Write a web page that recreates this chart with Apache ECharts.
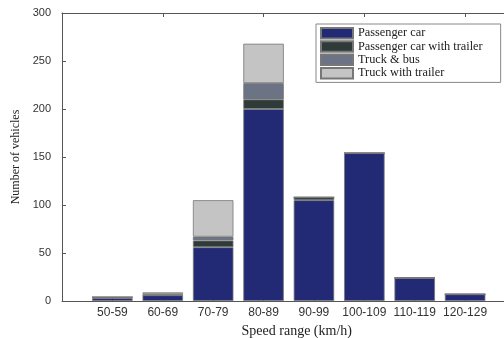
<!DOCTYPE html>
<html><head><meta charset="utf-8">
<script src="https://cdn.jsdelivr.net/npm/echarts@6/dist/echarts.min.js"></script>
<style>html,body{margin:0;padding:0;background:#fff}#c{width:504px;height:338px}</style>
</head><body><div id="c"></div>
<script>
var categories = ['50-59','60-69','70-79','80-89','90-99','100-109','110-119','120-129'];
var passengerCar = [3, 6, 56, 200, 105, 154, 24, 7];
var passengerCarTrailer = [1, 0, 7, 10, 3, 0, 0, 0];
var truckBus = [0, 1, 4, 17, 0, 0, 0, 0];
var truckTrailer = [0, 2, 38, 41, 0, 0, 0, 0];
var seriesNames = ['Passenger car','Passenger car with trailer','Truck & bus','Truck with trailer'];
var colors = ['#232a75','#2e3b39','#6b7385','#c4c4c4'];
var yTicks = [0, 50, 100, 150, 200, 250, 300];

var chart = echarts.init(document.getElementById('c'), null, {renderer:'canvas'});
// axis slots: an empty slot at each end (x = 0 and x = 9), categories at 1..8
var axisCats = [''].concat(categories).concat(['']);
function pad(arr){ return [null].concat(arr).concat([null]); }
var allData = [passengerCar, passengerCarTrailer, truckBus, truckTrailer];
var series = allData.map(function(arr, k){
  return {
    name: seriesNames[k], type:'bar', stack:'total', barWidth: 40.5,
    data: pad(arr),
    itemStyle:{color:colors[k], borderColor:'#777', borderWidth:0.8},
    emphasis:{disabled:true}
  };
});
var axisCol = '#555';
chart.setOption({
  animation:false,
  grid:{left:62, top:13, bottom:37, right:-11.5, outerBoundsMode:'none', containLabel:false},
  legend:{
    data: seriesNames, orient:'vertical', left:316, top:24,
    itemWidth:32, itemHeight:10.5, itemGap:0.8,
    padding:[3,18,3,4], backgroundColor:'#fff', borderColor:'#888', borderWidth:1,
    textStyle:{fontFamily:'Liberation Serif', fontSize:12.3, color:'#222', lineHeight:11.5},
    icon:'rect'
  },
  xAxis:[{
    type:'category', data: axisCats, boundaryGap:false, position:'bottom',
    name:'Speed range (km/h)', nameLocation:'middle', nameGap:23,
    nameTextStyle:{fontFamily:'Liberation Serif', fontSize:14, color:'#222', padding:[0,0,0,16]},
    axisLine:{show:true, lineStyle:{color:axisCol}},
    axisTick:{show:true, inside:true, length:4, lineStyle:{color:axisCol}},
    axisLabel:{fontFamily:'Liberation Sans', fontSize:12, color:'#333', margin:6, interval:0},
    splitLine:{show:false}
  },{
    type:'category', data: axisCats, boundaryGap:false, position:'top',
    axisLine:{show:true, lineStyle:{color:axisCol}},
    axisTick:{show:true, inside:true, length:4, lineStyle:{color:axisCol}},
    axisLabel:{show:false}, splitLine:{show:false}
  }],
  yAxis:{
    type:'value', min:yTicks[0], max:yTicks[yTicks.length-1], interval:50,
    name:'Number of vehicles', nameLocation:'middle', nameGap:35, nameRotate:90,
    nameTextStyle:{fontFamily:'Liberation Serif', fontSize:12, color:'#222'},
    axisLine:{show:true, lineStyle:{color:axisCol}},
    axisTick:{show:true, inside:true, length:4, lineStyle:{color:axisCol}},
    axisLabel:{fontFamily:'Liberation Sans', fontSize:11, color:'#333', margin:11},
    splitLine:{show:false}
  },
  series: series
});
</script></body></html>
